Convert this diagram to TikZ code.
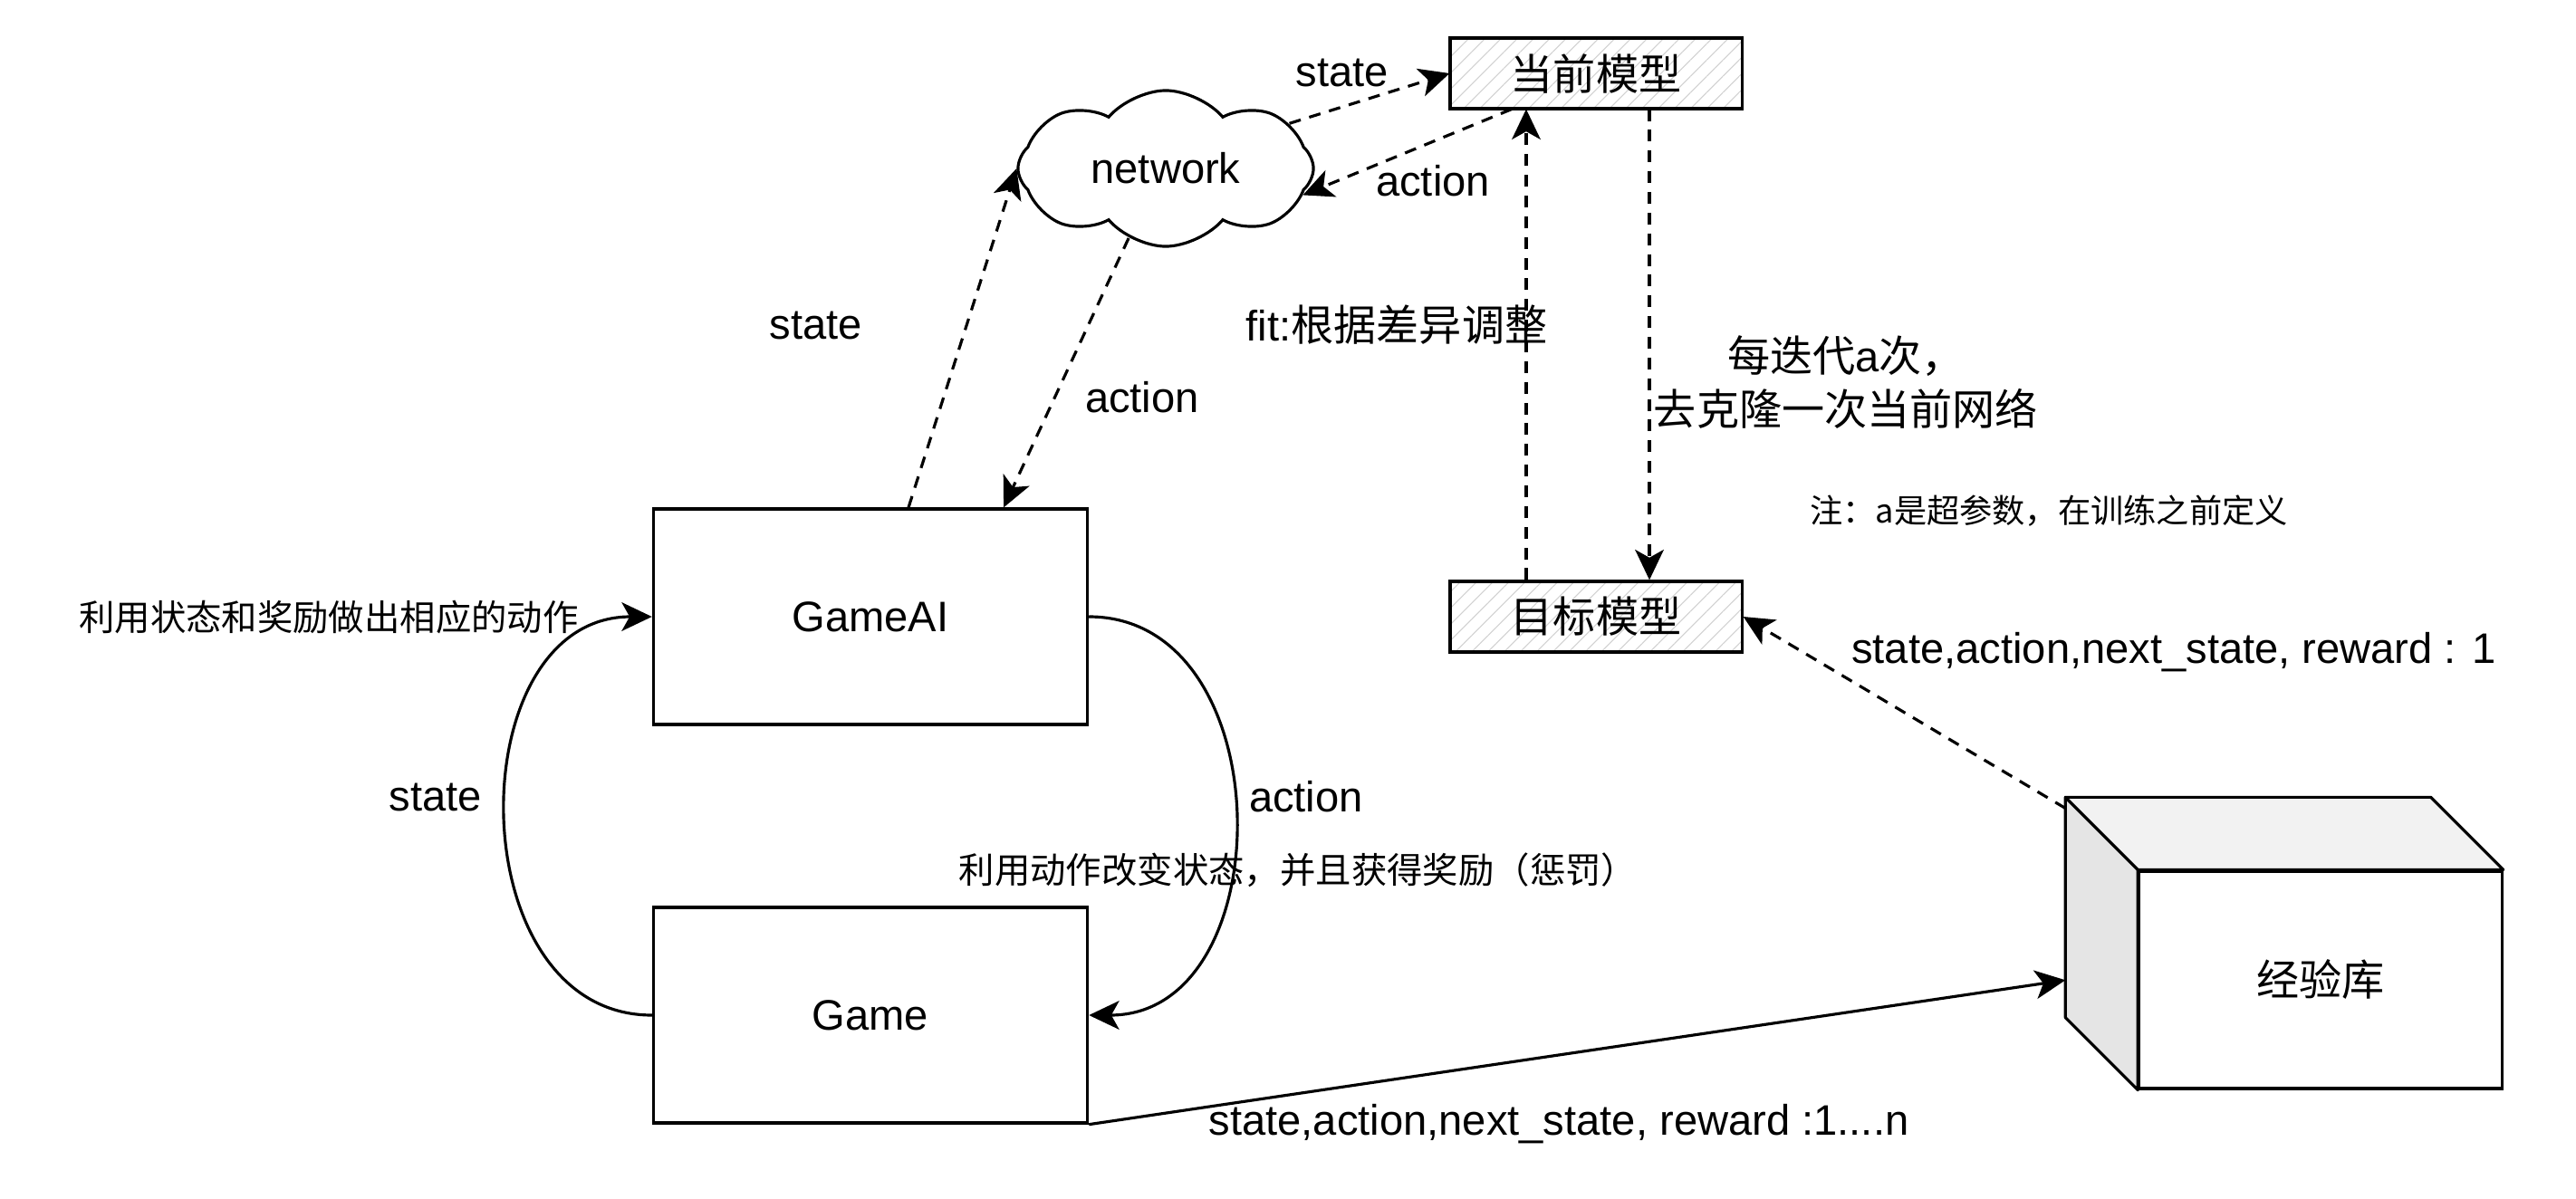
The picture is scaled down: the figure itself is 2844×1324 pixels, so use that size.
\documentclass[tikz,border=0pt]{standalone}
\usepackage{fontspec}
\setmainfont{Liberation Sans}
\newfontfamily\cjk{Noto Sans CJK SC}
\usetikzlibrary{arrows.meta,shapes.symbols,patterns.meta,calc}
\tikzset{
  big/.style={font=\fontsize{13.4}{17}\selectfont},
  small/.style={font=\fontsize{11.2}{14}\selectfont},
  box/.style={draw, line width=0.9pt, minimum width=4.79cm, minimum height=2.38cm, big},
  model/.style={draw, line width=0.9pt, minimum width=3.22cm, minimum height=0.78cm, big,
    pattern={Lines[angle=45,distance=3.6pt,line width=0.3pt]}, pattern color=black!18},
  flow/.style={line width=0.9pt, -{Stealth[length=9.5pt,width=9pt,inset=2.5pt]}},
  dflow/.style={flow, dash pattern=on 3.7pt off 2.8pt},
  lbl/.style={inner sep=0pt, big},
}
\begin{document}
\begin{tikzpicture}[x=0.01cm,y=-0.01cm]
  \useasboundingbox (0,0) rectangle (2844,1324);
  \node[box] (ai) at (961,681) {GameAI};
  \node[box] (game) at (961,1121) {Game};
  \node[model] (cur) at (1762,81) {\cjk 当前模型};
  \node[model] (tgt) at (1762,681) {\cjk 目标模型};
  \node[draw, line width=0.9pt, cloud, cloud puffs=8, cloud puff arc=100, aspect=1.9,
    minimum width=3.26cm, minimum height=1.72cm, inner sep=0pt, big] (net) at (1287,186) {network};
  % experience store as a box
  \node[draw, line width=0.9pt, minimum width=4cm, minimum height=2.4cm, big] (store) at (2562,1082) {\cjk 经验库};
  \coordinate (bnw) at ($(store.north west)+(-80,-80)$);
  \coordinate (bsw) at ($(store.south west)+(-80,-80)$);
  \coordinate (bne) at ($(store.north east)+(-80,-80)$);
  \draw[line width=0.9pt, line join=round, fill=black!10] (store.north west) -- (bnw) -- (bsw) -- (store.south west) -- cycle;
  \draw[line width=0.9pt, line join=round, fill=black!5] (store.north west) -- (bnw) -- (bne) -- (store.north east) -- cycle;

  \draw[dflow] ([xshift=0.42cm]ai.north) -- (net.west);
  \draw[dflow] (net.242) -- ([xshift=1.47cm]ai.north);
  \draw[dflow] (net.20) -- (cur.west);
  \draw[dflow] ([xshift=-0.93cm]cur.south) -- (net.349);
  \draw[dflow] ([xshift=-0.77cm]tgt.north) -- ([xshift=-0.77cm]cur.south);
  \draw[dflow] ([xshift=0.59cm]cur.south) -- ([xshift=0.59cm]tgt.north);
  \draw[dflow] ($(bnw)!0.05!(bsw)$) -- (tgt.east);
  \draw[flow] (game.south east) -- ($(bnw)!0.83!(bsw)$);
  \draw[flow] (ai.east) to[out=0,in=0,looseness=1.25] (game.east);
  \draw[flow] (game.west) to[out=180,in=180,looseness=1.25] (ai.west);

  \node[lbl] (lstate1) at (1482,80) {state};
  \node[lbl] (laction1) at (1582,200) {action};
  \node[lbl] (lstate2) at (901,359) {state};
  \node[lbl] (laction2) at (1261,439) {action};
  \node[lbl] (lfit) at (1542,359) {fit:{\cjk 根据差异调整}};
  \node[lbl, align=center] (lclone) at (2038,422) {{\cjk 每迭代}a{\cjk 次，}\\{\cjk 去克隆一次当前网络}};
  \node[inner sep=0pt, font=\fontsize{10.3}{12}\selectfont] (lnote) at (2262,564) {\cjk 注：a是超参数，在训练之前定义};
  \node[lbl] (lsar1) at (2400,720) {state,action,next\_state, reward : 1};
  \node[lbl, small] (lhint1) at (363,682) {\cjk 利用状态和奖励做出相应的动作};
  \node[lbl] (lstate3) at (481,880) {state};
  \node[lbl] (laction3) at (1442,880) {action};
  \node[lbl, small] (lhint2) at (1433,961) {\cjk 利用动作改变状态，并且获得奖励（惩罚）};
  \node[lbl] (lsarn) at (1721,1241) {state,action,next\_state, reward :1....n};
\end{tikzpicture}
\end{document}
